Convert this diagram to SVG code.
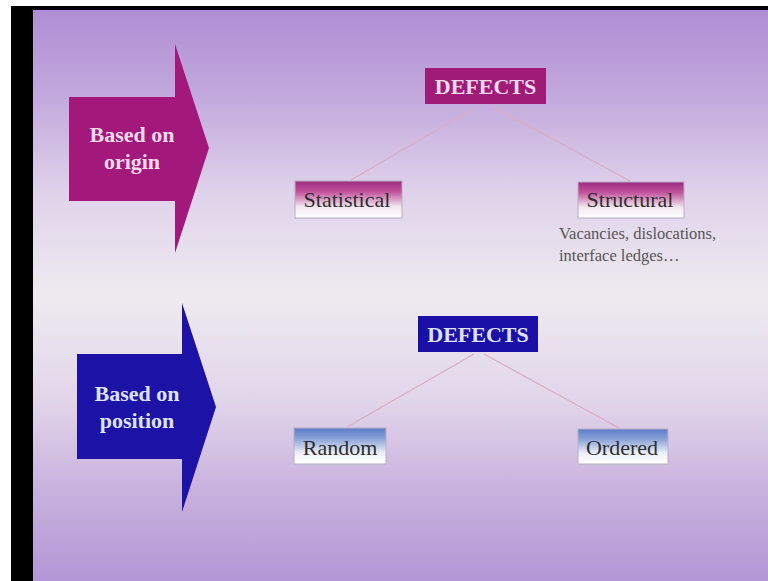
<svg xmlns="http://www.w3.org/2000/svg" width="768" height="581" viewBox="0 0 768 581">
  <defs>
    <linearGradient id="bg" x1="0" y1="10" x2="0" y2="581" gradientUnits="userSpaceOnUse">
      <stop offset="0" stop-color="#b08ed4"/>
      <stop offset="0.15" stop-color="#c2a8dc"/>
      <stop offset="0.32" stop-color="#dfd2ea"/>
      <stop offset="0.5" stop-color="#eeebf0"/>
      <stop offset="0.68" stop-color="#e2d6ea"/>
      <stop offset="0.85" stop-color="#c7b0dd"/>
      <stop offset="1" stop-color="#b396d6"/>
    </linearGradient>
    <linearGradient id="gMag" x1="0" y1="0" x2="0" y2="1">
      <stop offset="0" stop-color="#9c2a80"/>
      <stop offset="0.3" stop-color="#c2559e"/>
      <stop offset="0.7" stop-color="#f3e8f0"/>
      <stop offset="1" stop-color="#ffffff"/>
    </linearGradient>
    <linearGradient id="gBlue" x1="0" y1="0" x2="0" y2="1">
      <stop offset="0" stop-color="#5b7cc9"/>
      <stop offset="0.3" stop-color="#8aa3d8"/>
      <stop offset="0.7" stop-color="#eef1f8"/>
      <stop offset="1" stop-color="#ffffff"/>
    </linearGradient>
    <style>
      .lbl { font-family: "Liberation Serif", "Times New Roman", serif; font-weight: bold; font-size: 22px; text-anchor: middle; }
      .pink { fill: #f6d9ea; }
      .pale { fill: #dfe1f6; }
      .leaf { font-family: "Liberation Serif", "Times New Roman", serif; font-size: 22px; fill: #2e2e2e; text-anchor: middle; }
      .note { font-family: "Liberation Serif", "Times New Roman", serif; font-size: 16.5px; fill: #555555; }
      .conn { stroke: #d9aec4; stroke-width: 1.3; fill: none; }
      .box { stroke: #b8b0c0; stroke-width: 1; }
    </style>
  </defs>

  <!-- frame -->
  <rect x="0" y="0" width="768" height="581" fill="#ffffff"/>
  <rect x="11" y="6" width="757" height="575" fill="#000000"/>
  <rect x="33" y="10" width="735" height="571" fill="url(#bg)"/>

  <!-- connectors -->
  <g id="connectors">
    <line class="conn" x1="478" y1="106" x2="351" y2="180"/>
    <line class="conn" x1="492" y1="106" x2="630" y2="181"/>
    <line class="conn" x1="474" y1="354" x2="347" y2="427"/>
    <line class="conn" x1="484" y1="354" x2="619" y2="428"/>
  </g>

  <g id="arrow-origin">
    <path d="M69 97 H175 V44 L209 148 L175 253 V201 H69 Z" fill="#a3187b"/>
    <text class="lbl pink" x="132" y="142">Based on</text>
    <text class="lbl pink" x="132" y="169">origin</text>
  </g>

  <g id="arrow-position">
    <path d="M77 354 H182 V303 L216 407 L182 512 V459 H77 Z" fill="#1c12a6"/>
    <text class="lbl pale" x="137" y="401">Based on</text>
    <text class="lbl pale" x="137" y="428">position</text>
  </g>

  <g id="defects-origin">
    <rect x="425" y="68" width="121" height="36" fill="#a01b78"/>
    <text class="lbl pink" x="485.5" y="94">DEFECTS</text>
  </g>

  <g id="statistical">
    <rect class="box" x="295" y="181" width="107" height="37" fill="url(#gMag)"/>
    <text class="leaf" x="347" y="207">Statistical</text>
  </g>

  <g id="structural">
    <rect class="box" x="578" y="182" width="106" height="36" fill="url(#gMag)"/>
    <text class="leaf" x="630" y="207">Structural</text>
    <text class="note" x="559" y="239">Vacancies, dislocations,</text>
    <text class="note" x="559" y="261">interface ledges…</text>
  </g>

  <g id="defects-position">
    <rect x="418" y="316" width="120" height="36" fill="#1a10a8"/>
    <text class="lbl pale" x="478" y="342">DEFECTS</text>
  </g>

  <g id="random">
    <rect class="box" x="294" y="428" width="92" height="36" fill="url(#gBlue)"/>
    <text class="leaf" x="340" y="455">Random</text>
  </g>

  <g id="ordered">
    <rect class="box" x="578" y="429" width="90" height="35" fill="url(#gBlue)"/>
    <text class="leaf" x="622" y="455">Ordered</text>
  </g>
</svg>
